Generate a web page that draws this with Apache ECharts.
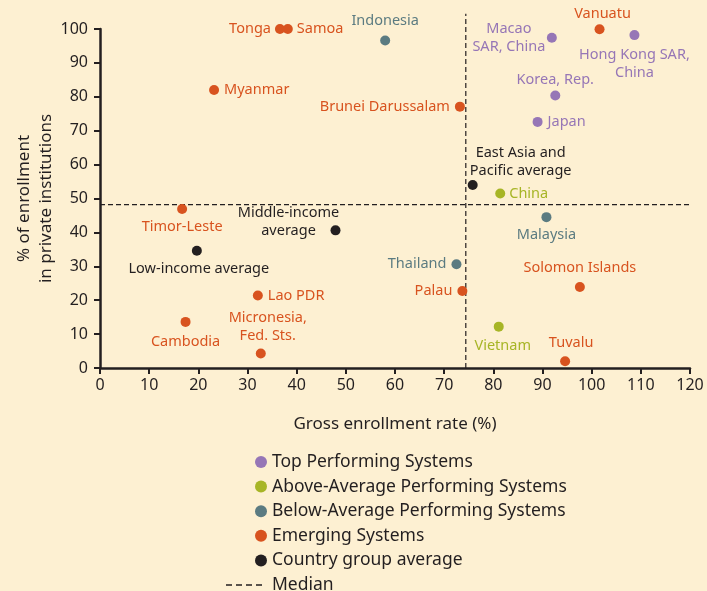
<!DOCTYPE html>
<html>
<head>
<meta charset="utf-8">
<script src="https://cdn.jsdelivr.net/npm/echarts@6/dist/echarts.min.js"></script>
<style>
  html, body { margin: 0; padding: 0; background: #fdf0d2; }
  #main { width: 707px; height: 591px; }
</style>
</head>
<body>
<div id="main"></div>
<script>
// 各组数据：名称 / 毛入学率 / 私立比例
var topNames = ['Macao\nSAR, China', 'Hong Kong SAR,\nChina', 'Korea, Rep.', 'Japan']
var topX = [91.9, 108.7, 92.6, 89.0]
var topY = [97.4, 98.2, 80.4, 72.6]

var aboveNames = ['China', 'Vietnam']
var aboveX = [81.4, 81.1]
var aboveY = [51.5, 12.2]

var belowNames = ['Indonesia', 'Malaysia', 'Thailand']
var belowX = [58.0, 90.8, 72.5]
var belowY = [96.6, 44.5, 30.6]

var emergNames = ['Tonga', 'Samoa', 'Vanuatu', 'Myanmar', 'Brunei Darussalam', 'Timor-Leste',
  'Solomon Islands', 'Lao PDR', 'Palau', 'Cambodia', 'Micronesia,\nFed. Sts.', 'Tuvalu']
var emergX = [36.6, 38.2, 101.6, 23.2, 73.2, 16.7, 97.6, 32.1, 73.7, 17.4, 32.7, 94.6]
var emergY = [100, 100, 99.9, 82.0, 77.1, 46.9, 23.9, 21.4, 22.7, 13.6, 4.3, 2.0]

var avgNames = ['East Asia and\nPacific average', 'Middle-income\naverage', 'Low-income average']
var avgX = [75.8, 47.9, 19.7]
var avgY = [54.0, 40.6, 34.6]

var medianX = 74.4
var medianY = 48.2

var xTicks = [0, 10, 20, 30, 40, 50, 60, 70, 80, 90, 100, 110, 120]
var yTicks = [0, 10, 20, 30, 40, 50, 60, 70, 80, 90, 100]

// 标签相对于点的偏移 (px) 和对齐方式
var labelPos = {
  'Macao\nSAR, China': [-43, 0, 'center'],
  'Hong Kong SAR,\nChina': [0, 29, 'center'],
  'Korea, Rep.': [0, -16, 'center'],
  'Japan': [10, 0, 'left'],
  'China': [9, 0, 'left'],
  'Vietnam': [4, 19, 'center'],
  'Indonesia': [0, -20, 'center'],
  'Malaysia': [0, 18, 'center'],
  'Thailand': [-10, 0, 'right'],
  'Tonga': [-9, 0, 'right'],
  'Samoa': [9, 0, 'left'],
  'Vanuatu': [3, -15, 'center'],
  'Myanmar': [10, 0, 'left'],
  'Brunei Darussalam': [-10, 0, 'right'],
  'Timor-Leste': [0, 18, 'center'],
  'Solomon Islands': [0, -19, 'center'],
  'Lao PDR': [10, 0, 'left'],
  'Palau': [-10, 0, 'right'],
  'Cambodia': [0, 20, 'center'],
  'Micronesia,\nFed. Sts.': [7, -27, 'center'],
  'Tuvalu': [6, -18, 'center'],
  'East Asia and\nPacific average': [48, -23, 'center'],
  'Middle-income\naverage': [-47, -8, 'center'],
  'Low-income average': [2, 18, 'center']
}

var FONT = 'Noto Sans'
var INK = '#231f20'
var dotSize = 10

function buildData(names, xs, ys, color) {
  var out = []
  for (let i = 0; i < names.length; i++) {
    let p = labelPos[names[i]]
    out.push({
      name: names[i],
      value: [xs[i], ys[i]],
      label: {
        show: true,
        formatter: '{b}',
        position: [dotSize / 2 + p[0], dotSize / 2 + p[1]],
        align: p[2],
        verticalAlign: 'middle',
        color: color,
        fontFamily: FONT,
        fontSize: 14.5,
        lineHeight: 18
      }
    })
  }
  return out
}

function scatter(name, names, xs, ys, color) {
  return {
    name: name,
    type: 'scatter',
    symbolSize: dotSize,
    itemStyle: { color: color, opacity: 1 },
    data: buildData(names, xs, ys, color),
    z: 3
  }
}

function medianLine(pts) {
  return {
    name: 'Median',
    type: 'line',
    symbol: 'none',
    clip: false,
    silent: true,
    lineStyle: { color: INK, width: 1.2, type: [5, 3] },
    itemStyle: { color: INK },
    data: pts,
    z: 1
  }
}

var chart = echarts.init(document.getElementById('main'))

var option = {
  backgroundColor: '#fdf0d2',
  animation: false,
  grid: { left: 100, right: 17, top: 29, bottom: 223, outerBoundsMode: 'none', containLabel: false },
  legend: [{
    orient: 'vertical',
    left: 250,
    top: 448,
    itemWidth: 12,
    itemHeight: 12,
    itemGap: 6.6,
    icon: 'circle',
    textStyle: { fontFamily: FONT, fontSize: 17.5, color: INK },
    data: ['Top Performing Systems', 'Above-Average Performing Systems',
      'Below-Average Performing Systems', 'Emerging Systems', 'Country group average']
  }, {
    orient: 'vertical',
    left: 221,
    top: 571,
    itemWidth: 36,
    itemHeight: 12,
    textStyle: { fontFamily: FONT, fontSize: 17.5, color: INK, padding: [0, 0, 0, 5] },
    data: [{
      name: 'Median',
      icon: 'path://M0,0h6v1.3h-6z M10,0h6v1.3h-6z M20,0h6v1.3h-6z M30,0h6v1.3h-6z'
    }]
  }],
  xAxis: {
    type: 'value',
    min: 0,
    max: 120,
    interval: 10,
    name: 'Gross enrollment rate (%)',
    nameLocation: 'middle',
    nameGap: 48,
    nameMoveOverlap: false,
    nameTextStyle: { fontFamily: FONT, fontSize: 17, color: INK },
    axisLine: { onZero: false, lineStyle: { color: INK, width: 2.5 } },
    axisTick: { show: true, length: 6, lineStyle: { color: INK, width: 2 } },
    axisLabel: {
      margin: 9,
      fontFamily: FONT,
      fontSize: 16,
      color: INK,
      formatter: function (v) { return xTicks.indexOf(v) >= 0 ? String(v) : '' }
    },
    splitLine: { show: false }
  },
  yAxis: {
    type: 'value',
    min: 0,
    max: 100,
    interval: 10,
    name: '% of enrollment\nin private institutions',
    nameLocation: 'middle',
    nameRotate: 90,
    nameGap: 43,
    nameMoveOverlap: false,
    nameTextStyle: { fontFamily: FONT, fontSize: 17, color: INK, lineHeight: 22 },
    axisLine: { show: true, onZero: false, lineStyle: { color: INK, width: 2.5 } },
    axisTick: { show: true, length: 6, lineStyle: { color: INK, width: 2 } },
    axisLabel: {
      margin: 12,
      fontFamily: FONT,
      fontSize: 16,
      color: INK,
      formatter: function (v) { return yTicks.indexOf(v) >= 0 ? String(v) : '' }
    },
    splitLine: { show: false }
  },
  series: [
    scatter('Top Performing Systems', topNames, topX, topY, '#9676b6'),
    scatter('Above-Average Performing Systems', aboveNames, aboveX, aboveY, '#a7b526'),
    scatter('Below-Average Performing Systems', belowNames, belowX, belowY, '#5b7b81'),
    scatter('Emerging Systems', emergNames, emergX, emergY, '#d8531f'),
    scatter('Country group average', avgNames, avgX, avgY, INK),
    medianLine([[medianX, 0], [medianX, 104.5]]),
    medianLine([[0, medianY], [120, medianY]])
  ]
}

chart.setOption(option)
</script>
</body>
</html>
